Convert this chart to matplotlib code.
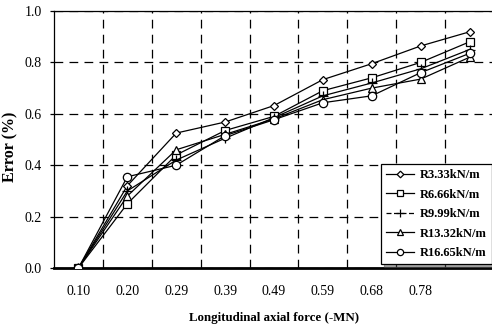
import matplotlib
matplotlib.use("Agg")
import matplotlib.pyplot as plt
from matplotlib.lines import Line2D

plt.rcParams['font.family'] = ['Liberation Serif', 'DejaVu Serif']

categories = ["0.10", "0.20", "0.29", "0.39", "0.49", "0.59", "0.68", "0.78", ""]

r333 = [0.0, 0.32, 0.525, 0.568, 0.632, 0.733, 0.795, 0.864, 0.919]
r666 = [0.0, 0.25, 0.44, 0.535, 0.59, 0.69, 0.74, 0.80, 0.88]
r999 = [0.0, 0.30, 0.42, 0.505, 0.585, 0.67, 0.72, 0.775, 0.85]
r1332 = [0.0, 0.28, 0.46, 0.52, 0.58, 0.655, 0.70, 0.735, 0.82]
r1665 = [0.0, 0.355, 0.40, 0.515, 0.577, 0.643, 0.67, 0.76, 0.835]

series = [
    ("R3.33kN/m", r333, "D", 4.5),
    ("R6.66kN/m", r666, "s", 5.5),
    ("R9.99kN/m", r999, "+", 7),
    ("R13.32kN/m", r1332, "^", 6),
    ("R16.65kN/m", r1665, "o", 6),
]

fig = plt.figure(figsize=(4.92, 3.28), dpi=100)
ax = fig.add_axes([54 / 492, 60 / 328, 440 / 492, 257 / 328])

x = list(range(len(categories)))
handles = []
for name, vals, mk, ms in series:
    ax.plot(x, vals, color="black", lw=0.9, marker=mk, ms=ms,
            mfc="white", mec="black", mew=0.9, zorder=3)
    h_ls = (0, (4, 2)) if mk == "+" else "-"
    handles.append(Line2D([], [], color="black", lw=0.9, ls=h_ls, marker=mk,
                          ms=ms * 0.75, mfc="white", mec="black", mew=0.9))

ax.set_xlim(-0.5, len(categories) - 0.5)
ax.set_ylim(0, 1.0)
ax.set_xticks(x)
ax.set_xticklabels(categories, fontsize=10)
ax.set_xticks([i + 0.5 for i in range(len(categories) - 1)], minor=True)
ax.set_yticks([0.0, 0.2, 0.4, 0.6, 0.8, 1.0])
ax.set_yticklabels(["0.0", "0.2", "0.4", "0.6", "0.8", "1.0"], fontsize=10)
ax.tick_params(axis="x", which="both", length=0, pad=12)
ax.tick_params(axis="y", which="both", length=3, width=0.9, direction="out", pad=6)

ax.grid(True, axis="x", which="minor", color="black", ls=(0, (7, 5)), lw=0.9)
ax.grid(True, axis="y", which="major", color="black", ls=(0, (7, 5)), lw=0.9)
ax.set_axisbelow(True)

for s in ["top", "left", "right"]:
    ax.spines[s].set_linewidth(0.9)
ax.spines["bottom"].set_linewidth(2.0)

ax.set_xlabel("Longitudinal axial force (-MN)", fontsize=9.3, fontweight="bold",
              labelpad=10)
ax.set_ylabel("Error (%)", fontsize=11.5, fontweight="bold")
ax.yaxis.set_label_coords(-36 / 440, 0.47)

leg = ax.legend(handles, [s[0] for s in series], loc="lower right",
                bbox_to_anchor=(0.9955, 0.015),
                prop={"weight": "bold", "size": 9}, frameon=True, fancybox=False,
                shadow=True, borderpad=0.4, labelspacing=0.6, handlelength=2.2,
                handletextpad=0.5, borderaxespad=0)
leg.get_frame().set_edgecolor("black")
leg.get_frame().set_linewidth(0.9)

fig.savefig("out.png", dpi=100)
